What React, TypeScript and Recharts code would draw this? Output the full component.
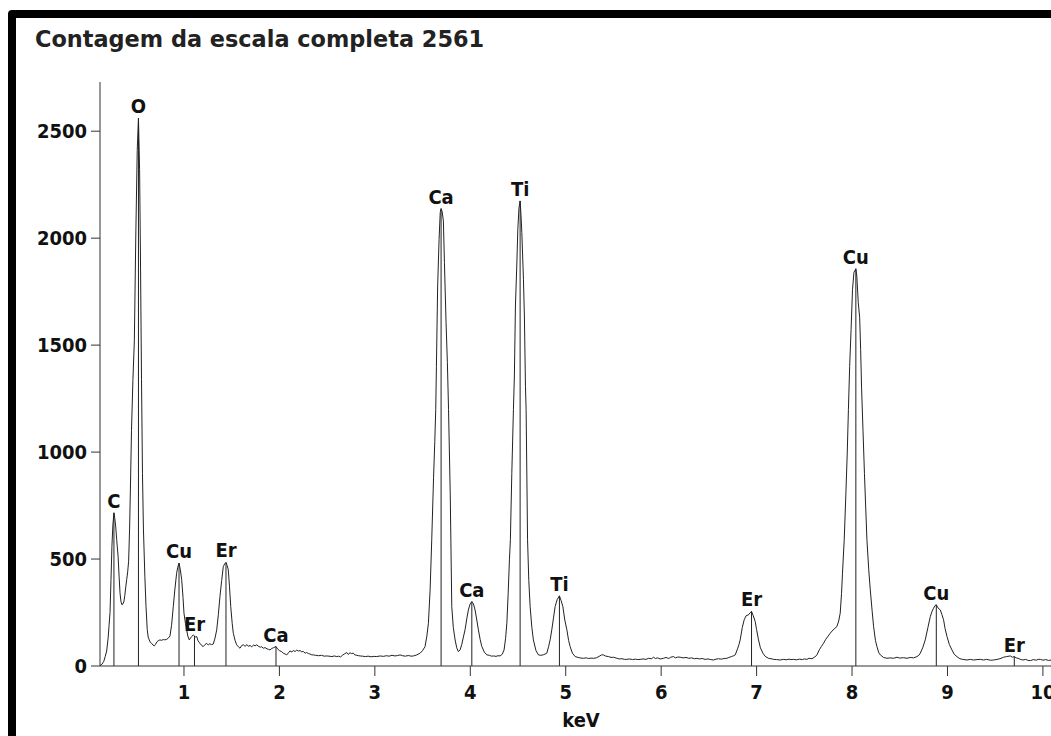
import React from 'react';
import { LineChart, Line, XAxis, YAxis, ReferenceLine } from 'recharts';

// axis ticks
const xTicks = [1, 2, 3, 4, 5, 6, 7, 8, 9, 10];
const yTicks = [0, 500, 1000, 1500, 2000, 2500];

// EDS spectrum: [energy keV, counts]
const spectrum: [number, number][] = [
  [0.12, 2], [0.14, 8], [0.16, 22], [0.175, 45], [0.19, 70], [0.205, 130], [0.215, 190], [0.225, 250],
  [0.235, 400], [0.245, 560], [0.255, 660], [0.266, 716], [0.275, 690], [0.285, 650], [0.295, 590],
  [0.31, 510], [0.32, 420], [0.33, 340], [0.34, 300], [0.35, 286], [0.36, 290], [0.37, 300], [0.38, 330],
  [0.39, 370], [0.40, 405], [0.41, 440], [0.42, 490], [0.43, 640], [0.44, 860], [0.45, 1100], [0.465, 1340],
  [0.48, 1520], [0.495, 2010], [0.51, 2410], [0.523, 2561], [0.535, 2320], [0.545, 1860], [0.555, 1340],
  [0.565, 900], [0.575, 640], [0.59, 420], [0.602, 278], [0.615, 170], [0.625, 135], [0.636, 122],
  [0.648, 110], [0.661, 106], [0.675, 98], [0.69, 94], [0.70, 100], [0.715, 112], [0.73, 118], [0.748, 122],
  [0.765, 120], [0.785, 124], [0.80, 122], [0.82, 125], [0.835, 130], [0.853, 140], [0.87, 190], [0.888, 278],
  [0.905, 360], [0.923, 434], [0.935, 462], [0.948, 481], [0.962, 450], [0.976, 403], [0.99, 320], [1.0, 247],
  [1.015, 200], [1.028, 170], [1.04, 140], [1.056, 122], [1.068, 130], [1.081, 138], [1.097, 145], [1.11, 140],
  [1.12, 136], [1.133, 138], [1.145, 120], [1.158, 110], [1.168, 106], [1.185, 96], [1.202, 91], [1.22, 100],
  [1.238, 106], [1.255, 98], [1.27, 104], [1.29, 100], [1.307, 103], [1.325, 130], [1.343, 169], [1.36, 240],
  [1.377, 325], [1.395, 400], [1.412, 465], [1.427, 478], [1.44, 484], [1.452, 470], [1.464, 450], [1.477, 370],
  [1.49, 278], [1.505, 200], [1.517, 153], [1.535, 120], [1.552, 99], [1.57, 90], [1.587, 83], [1.605, 96],
  [1.622, 99], [1.64, 92], [1.66, 100], [1.675, 92], [1.692, 96], [1.71, 90], [1.73, 98], [1.745, 94],
  [1.762, 99], [1.78, 92], [1.80, 88], [1.815, 90], [1.831, 83], [1.85, 86], [1.87, 80], [1.885, 78],
  [1.901, 75], [1.92, 82], [1.94, 86], [1.964, 91], [1.98, 80], [2.0, 72], [2.024, 67], [2.04, 60],
  [2.06, 56], [2.077, 52], [2.095, 62], [2.11, 70], [2.13, 66], [2.146, 72], [2.165, 68], [2.18, 74],
  [2.2, 70], [2.216, 72], [2.235, 66], [2.25, 68], [2.27, 60], [2.286, 63], [2.305, 58], [2.32, 56],
  [2.34, 52], [2.355, 52], [2.38, 50], [2.41, 48], [2.44, 50], [2.47, 46], [2.496, 47], [2.52, 46],
  [2.55, 44], [2.575, 47], [2.601, 44], [2.62, 46], [2.64, 42], [2.66, 50], [2.68, 56], [2.705, 63],
  [2.72, 54], [2.74, 62], [2.755, 58], [2.775, 60], [2.79, 52], [2.81, 50], [2.83, 48], [2.845, 47],
  [2.87, 46], [2.9, 44], [2.93, 46], [2.96, 43], [2.99, 45], [3.02, 44], [3.055, 47], [3.09, 45],
  [3.12, 48], [3.15, 46], [3.18, 50], [3.21, 47], [3.24, 49], [3.264, 52], [3.29, 48], [3.32, 46],
  [3.35, 49], [3.38, 46], [3.404, 47], [3.44, 52], [3.474, 60], [3.5, 72], [3.526, 91], [3.545, 140],
  [3.561, 200], [3.579, 356], [3.596, 590], [3.615, 880], [3.628, 1050], [3.638, 1199], [3.645, 1400],
  [3.658, 1776], [3.673, 1995], [3.685, 2120], [3.694, 2138], [3.705, 2125], [3.718, 2080], [3.729, 1886],
  [3.746, 1605], [3.76, 1418], [3.772, 1199], [3.79, 800], [3.806, 278], [3.822, 180], [3.841, 122],
  [3.858, 85], [3.875, 67], [3.893, 75], [3.91, 100], [3.93, 140], [3.945, 169], [3.963, 220], [3.98, 262],
  [3.998, 290], [4.016, 301], [4.033, 290], [4.05, 262], [4.068, 215], [4.085, 169], [4.103, 125],
  [4.121, 91], [4.147, 65], [4.173, 52], [4.2, 50], [4.222, 46], [4.242, 47], [4.27, 45], [4.29, 48],
  [4.312, 47], [4.335, 55], [4.354, 75], [4.37, 130], [4.383, 200], [4.397, 340], [4.41, 496], [4.42, 590],
  [4.435, 900], [4.452, 1199], [4.462, 1356], [4.473, 1683], [4.487, 1870], [4.498, 2042], [4.51, 2140],
  [4.522, 2174], [4.531, 2110], [4.54, 2026], [4.557, 1808], [4.567, 1636], [4.578, 1308], [4.585, 1199],
  [4.6, 590], [4.613, 400], [4.627, 278], [4.645, 180], [4.661, 122], [4.688, 72], [4.714, 52], [4.74, 50],
  [4.77, 53], [4.802, 60], [4.82, 90], [4.838, 125], [4.854, 169], [4.872, 225], [4.889, 278], [4.91, 310],
  [4.934, 328], [4.952, 305], [4.97, 278], [4.99, 215], [5.012, 169], [5.03, 120], [5.046, 91], [5.07, 60],
  [5.099, 44], [5.13, 40], [5.16, 37], [5.186, 36], [5.215, 38], [5.24, 35], [5.265, 37], [5.29, 36],
  [5.32, 38], [5.35, 45], [5.375, 52], [5.395, 52], [5.42, 46], [5.45, 44], [5.475, 40], [5.5, 41],
  [5.53, 37], [5.56, 33], [5.59, 34], [5.615, 31], [5.64, 31], [5.67, 33], [5.7, 30], [5.73, 32],
  [5.755, 30], [5.78, 31], [5.81, 33], [5.84, 31], [5.87, 36], [5.9, 34], [5.919, 41], [5.94, 35],
  [5.96, 38], [5.99, 33], [6.024, 36], [6.05, 40], [6.08, 35], [6.1, 41], [6.129, 44], [6.15, 38],
  [6.175, 42], [6.199, 41], [6.23, 38], [6.26, 40], [6.29, 36], [6.32, 38], [6.35, 34], [6.374, 36],
  [6.4, 33], [6.43, 35], [6.46, 31], [6.49, 33], [6.52, 30], [6.548, 28], [6.575, 32], [6.6, 34],
  [6.63, 32], [6.66, 35], [6.689, 36], [6.71, 40], [6.735, 44], [6.76, 48], [6.776, 52], [6.8, 80],
  [6.815, 100], [6.828, 122], [6.85, 180], [6.87, 216], [6.89, 235], [6.915, 239], [6.93, 248], [6.947, 255],
  [6.965, 235], [6.985, 208], [7.0, 170], [7.02, 122], [7.04, 85], [7.066, 60], [7.09, 45], [7.125, 36],
  [7.15, 34], [7.18, 31], [7.21, 30], [7.247, 28], [7.28, 31], [7.31, 29], [7.34, 32], [7.36, 30],
  [7.387, 31], [7.42, 29], [7.45, 32], [7.48, 30], [7.5, 33], [7.527, 31], [7.55, 36], [7.58, 34],
  [7.61, 42], [7.632, 52], [7.66, 78], [7.68, 92], [7.701, 106], [7.725, 125], [7.75, 140], [7.771, 153],
  [7.8, 168], [7.82, 176], [7.841, 184], [7.86, 210], [7.876, 247], [7.89, 340], [7.9, 434], [7.918, 590],
  [7.935, 800], [7.95, 1000], [7.962, 1199], [7.975, 1400], [7.99, 1573], [8.005, 1761], [8.02, 1840],
  [8.04, 1857], [8.05, 1823], [8.065, 1700], [8.08, 1629], [8.09, 1480], [8.1, 1300], [8.115, 1100],
  [8.13, 900], [8.145, 720], [8.156, 590], [8.175, 450], [8.191, 356], [8.21, 260], [8.226, 184],
  [8.245, 120], [8.261, 91], [8.28, 62], [8.296, 52], [8.33, 40], [8.366, 36], [8.4, 38], [8.435, 36],
  [8.471, 41], [8.5, 37], [8.54, 39], [8.576, 36], [8.61, 40], [8.645, 38], [8.68, 44], [8.7, 50],
  [8.715, 60], [8.74, 85], [8.767, 122], [8.795, 180], [8.82, 231], [8.838, 255], [8.854, 270], [8.868, 282],
  [8.883, 286], [8.9, 272], [8.925, 262], [8.942, 240], [8.959, 216], [8.975, 175], [8.995, 138],
  [9.02, 100], [9.047, 75], [9.07, 55], [9.099, 44], [9.13, 34], [9.16, 31], [9.204, 28], [9.24, 31],
  [9.27, 28], [9.31, 30], [9.344, 31], [9.38, 28], [9.41, 31], [9.45, 27], [9.483, 28], [9.52, 31],
  [9.55, 34], [9.588, 41], [9.62, 44], [9.658, 47], [9.68, 41], [9.7, 44], [9.72, 38], [9.74, 36],
  [9.763, 31], [9.79, 28], [9.82, 31], [9.845, 26], [9.868, 25], [9.9, 30], [9.93, 27], [9.95, 31],
  [9.973, 31], [10.0, 27], [10.03, 30], [10.06, 26], [10.088, 28], [10.12, 27], [10.15, 29], [10.2, 28],
];

// identified lines
const peakLabels = ['C', 'O', 'Cu', 'Er', 'Er', 'Ca', 'Ca', 'Ca', 'Ti', 'Ti', 'Er', 'Cu', 'Cu', 'Er'];
const peakKeV = [0.266, 0.523, 0.948, 1.11, 1.44, 1.964, 3.694, 4.016, 4.522, 4.934, 6.947, 8.04, 8.883, 9.7];
const peakCounts = [716, 2561, 481, 140, 484, 91, 2138, 301, 2174, 328, 255, 1857, 286, 44];

const data = spectrum.map(([kev, counts]) => ({ kev, counts }));

const NARROW = "'Liberation Sans Narrow', 'Arial Narrow', 'DejaVu Sans Condensed', sans-serif";
const tickStyle = { fill: '#111', fontFamily: NARROW, fontSize: 20, fontWeight: 700 };

export default function App() {
  return (
    <div style={{ position: 'fixed', left: 0, top: 0, width: 1051, height: 736, overflow: 'hidden', background: '#fff' }}>
      <div
        style={{
          position: 'absolute', left: 8, top: 10, width: 1100, height: 800,
          border: '8px solid #000', borderRadius: 4,
        }}
      />
      <div
        style={{
          position: 'absolute', left: 35, top: 28, whiteSpace: 'nowrap',
          fontFamily: "'DejaVu Sans', sans-serif", fontWeight: 700,
          fontSize: 22.4, lineHeight: '22px', color: '#222',
        }}
      >
        Contagem da escala completa 2561
      </div>
      <div style={{ position: 'absolute', left: 0, top: 0 }}>
        <LineChart width={1062} height={736} data={data} margin={{ top: 82, right: 0, bottom: 0, left: 0 }}>
          <XAxis
            dataKey="kev"
            type="number"
            domain={[0.12, 10.2]}
            ticks={xTicks}
            allowDataOverflow
            height={70}
            tickSize={10}
            tickMargin={9}
            stroke="#333"
            tick={tickStyle}
            label={{ value: 'keV', position: 'insideBottom', offset: 9, ...tickStyle }}
          />
          <YAxis
            type="number"
            domain={[0, 2730]}
            ticks={yTicks}
            allowDataOverflow
            width={100}
            tickSize={9}
            tickMargin={4}
            stroke="#333"
            tick={tickStyle}
          />
          {peakKeV.map((k, i) => (
            <ReferenceLine
              key={i}
              segment={[{ x: k, y: 0 }, { x: k, y: peakCounts[i] }]}
              stroke="#222"
              strokeWidth={1}
              label={{ value: peakLabels[i], position: 'top', offset: 5, ...tickStyle }}
            />
          ))}
          <Line
            dataKey="counts"
            type="linear"
            stroke="#222"
            strokeWidth={1}
            dot={false}
            isAnimationActive={false}
          />
        </LineChart>
      </div>
    </div>
  );
}
